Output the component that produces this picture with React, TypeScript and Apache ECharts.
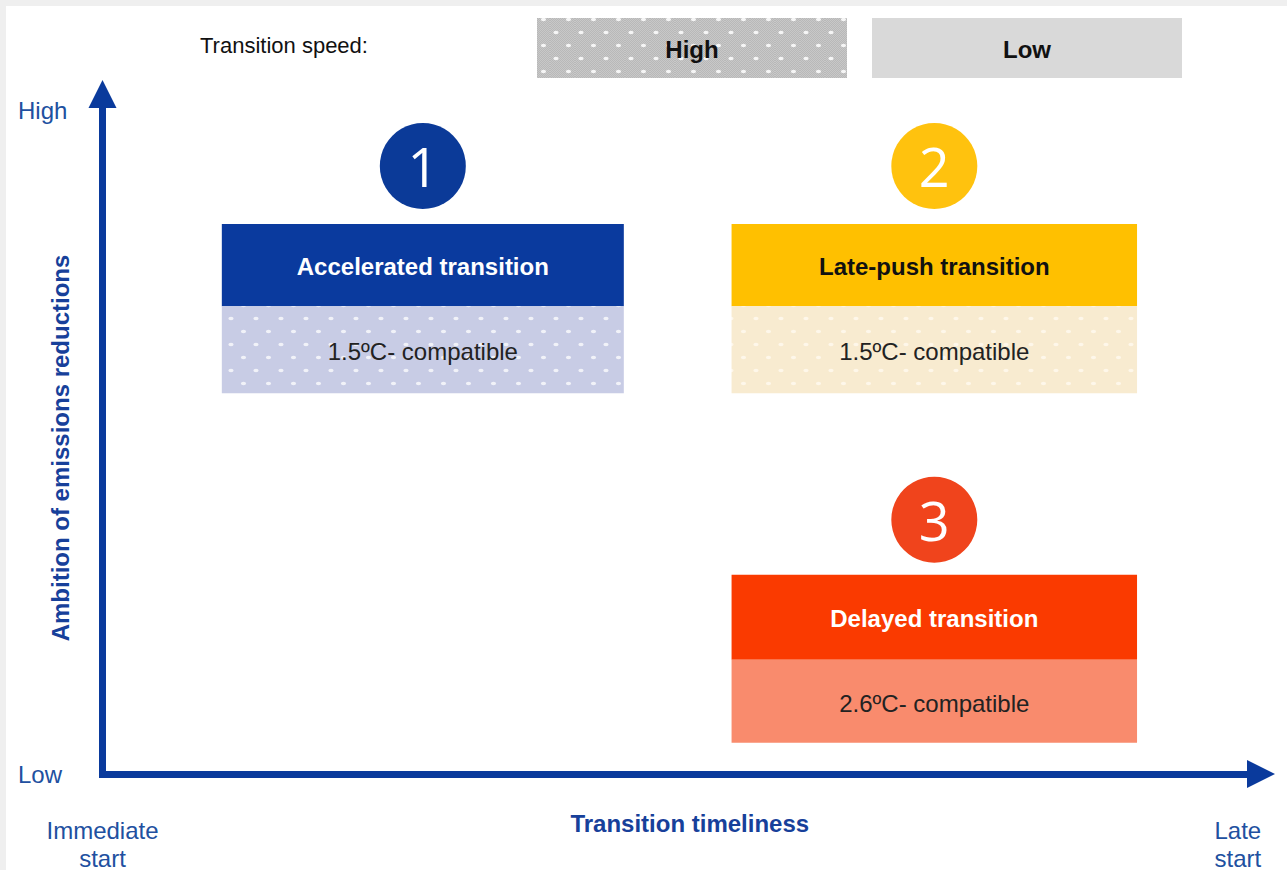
import React, { useEffect, useRef } from "react";
import * as echarts from "echarts";

// ---- data ----
const scenarioNames = ["Accelerated transition", "Late-push transition", "Delayed transition"];
const scenarioNumbers = ["1", "2", "3"];
const compatibilityLabels = ["1.5ºC- compatible", "1.5ºC- compatible", "2.6ºC- compatible"];
const scenarioSpeed = ["High", "High", "Low"];
// transition timeliness extent (0 = immediate start, 100 = late start)
const timelinessFrom = [10.3, 54.3, 54.3];
const timelinessTo = [45.0, 89.3, 89.3];
// ambition of emissions reductions (0 = low, 100 = high)
const ambitionHeaderTop = [80.9, 80.9, 29.3];
const ambitionHeaderBottom = [68.8, 68.8, 16.8];
const ambitionBoxBottom = [56.0, 56.0, 4.6];
const badgeAmbition = [89.4, 89.4, 37.4];
const speedLegend = ["High", "Low"];
const xTickValues = [0, 98];
const xTickLabels = ["Immediate\nstart", "Late\nstart"];
const yTickValues = [0, 97.6];
const yTickLabels = ["Low", "High"];

// ---- styles ----
const FONT = "'Liberation Sans', Arial, sans-serif";
const AXIS_BLUE = "#0a3a9c";
const LABEL_BLUE = "#2150a0";
const headerColors = ["#0a3a9e", "#ffc000", "#fa3a00"];
const headerTextColors = ["#ffffff", "#111111", "#ffffff"];
const badgeColors = ["#0b3a98", "#ffc20e", "#f0441c"];
const subTints = ["#c8cce5", "#f8ebd0", "#f98b6d"];
const subDots = ["#ffffff", "#fffaf0", "#ffffff"];
const subDotOpacity = [0.75, 0.8, 0.6];

function dotTile(base: string, dot: string, op: number, checker?: string) {
  const w = 25;
  const h = 26;
  let s = `<svg xmlns='http://www.w3.org/2000/svg' width='${w}' height='${h}'>`;
  s += `<rect width='${w}' height='${h}' fill='${base}'/>`;
  if (checker) {
    s += `<defs><pattern id='c' width='2' height='2' patternUnits='userSpaceOnUse'><rect width='1' height='1' fill='${checker}'/><rect x='1' y='1' width='1' height='1' fill='${checker}'/></pattern></defs>`;
    s += `<rect width='${w}' height='${h}' fill='url(#c)'/>`;
  }
  s += `<g fill='${dot}' fill-opacity='${op}'>`;
  s += `<ellipse cx='6' cy='6.5' rx='2.6' ry='1.7'/>`;
  s += `<ellipse cx='18.5' cy='19.5' rx='2.6' ry='1.7'/>`;
  s += `</g></svg>`;
  return {
    image: "data:image/svg+xml;charset=utf-8," + encodeURIComponent(s),
    repeat: "repeat",
    imageWidth: w,
    imageHeight: h,
  } as any;
}

export default function App() {
  const ref = useRef<HTMLDivElement>(null);

  useEffect(() => {
    if (!ref.current) return;
    const chart = echarts.init(ref.current, undefined, { renderer: "svg" });

    const boxData = scenarioNames.map((_, i) => [
      timelinessFrom[i],
      timelinessTo[i],
      ambitionHeaderTop[i],
      ambitionHeaderBottom[i],
      ambitionBoxBottom[i],
    ]);

    const subFills = scenarioNames.map((_, i) =>
      scenarioSpeed[i] === "High" ? dotTile(subTints[i], subDots[i], subDotOpacity[i]) : subTints[i]
    );

    const badgeData = scenarioNumbers.map((n, i) => ({
      value: [(timelinessFrom[i] + timelinessTo[i]) / 2, badgeAmbition[i]],
      itemStyle: { color: badgeColors[i], opacity: 1 },
    }));

    const legendFills = [dotTile("#c8c8c8", "#ffffff", 0.85, "#b8b8b8"), "#d9d9d9"];
    const legendX = [537, 872];

    const option: any = {
      animation: false,
      backgroundColor: "#ffffff",
      grid: {
        left: 102.5,
        right: 26,
        top: 94,
        bottom: 96,
        containLabel: false,
        outerBoundsMode: "none",
      },
      xAxis: {
        type: "value",
        min: 0,
        max: 100,
        name: "Transition timeliness",
        nameLocation: "middle",
        nameGap: 37,
        nameMoveOverlap: false,
        nameTextStyle: {
          fontFamily: FONT,
          fontSize: 24,
          fontWeight: "bold",
          color: "#17409a",
          padding: [0, 0, 0, 16],
        },
        axisLine: {
          show: true,
          onZero: false,
          symbol: ["none", "triangle"],
          symbolSize: [28, 28],
          lineStyle: { color: AXIS_BLUE, width: 7, cap: "square" },
        },
        axisTick: { show: false },
        splitLine: { show: false },
        axisLabel: {
          customValues: xTickValues,
          formatter: (v: number) => xTickLabels[xTickValues.indexOf(v)] ?? "",
          margin: 42,
          fontFamily: FONT,
          fontSize: 24,
          lineHeight: 28,
          color: LABEL_BLUE,
        },
      },
      yAxis: {
        type: "value",
        min: 0,
        max: 100,
        name: "Ambition of emissions reductions",
        nameLocation: "middle",
        nameGap: 30,
        nameRotate: 90,
        nameMoveOverlap: false,
        nameTextStyle: {
          fontFamily: FONT,
          fontSize: 24,
          fontWeight: "bold",
          color: "#17409a",
          padding: [0, 28, 0, 0],
        },
        axisLine: {
          show: true,
          onZero: false,
          symbol: ["none", "triangle"],
          symbolSize: [28, 28],
          lineStyle: { color: AXIS_BLUE, width: 7, cap: "square" },
        },
        axisTick: { show: false },
        splitLine: { show: false },
        axisLabel: {
          customValues: yTickValues,
          formatter: (v: number) => yTickLabels[yTickValues.indexOf(v)] ?? "",
          margin: 84.5,
          align: "left",
          fontFamily: FONT,
          fontSize: 24,
          color: LABEL_BLUE,
        },
      },
      graphic: [
        { type: "rect", silent: true, shape: { x: 0, y: 0, width: 1287, height: 6 }, style: { fill: "#efefef" } },
        { type: "rect", silent: true, shape: { x: 0, y: 0, width: 6, height: 870 }, style: { fill: "#efefef" } },
        {
          type: "text",
          x: 200,
          y: 45,
          style: {
            text: "Transition speed:",
            fontFamily: FONT,
            fontSize: 22,
            fill: "#111111",
            verticalAlign: "middle",
          },
        },
        ...speedLegend.flatMap((s, i) => [
          {
            type: "rect",
            shape: { x: legendX[i], y: 18, width: 310, height: 60 },
            style: { fill: legendFills[i] },
          },
          {
            type: "text",
            x: legendX[i] + 155,
            y: 49,
            style: {
              text: s,
              fontFamily: FONT,
              fontSize: 24,
              fontWeight: "bold",
              fill: "#111111",
              align: "center",
              verticalAlign: "middle",
            },
          },
        ]),
      ],
      series: [
        {
          type: "custom",
          clip: false,
          data: boxData,
          encode: { x: [0, 1], y: [2, 3, 4] },
          renderItem: (params: any, api: any) => {
            const i = params.dataIndex;
            const p0 = api.coord([api.value(0), api.value(2)]);
            const p1 = api.coord([api.value(1), api.value(3)]);
            const p2 = api.coord([api.value(1), api.value(4)]);
            const cx = (p0[0] + p1[0]) / 2;
            return {
              type: "group",
              children: [
                {
                  type: "rect",
                  shape: { x: p0[0], y: p0[1], width: p1[0] - p0[0], height: p1[1] - p0[1] },
                  style: { fill: headerColors[i] },
                },
                {
                  type: "rect",
                  shape: { x: p0[0], y: p1[1], width: p1[0] - p0[0], height: p2[1] - p1[1] },
                  style: { fill: subFills[i] },
                },
                {
                  type: "text",
                  x: cx,
                  y: (p0[1] + p1[1]) / 2 + 1,
                  style: {
                    text: scenarioNames[i],
                    fontFamily: FONT,
                    fontSize: 24,
                    fontWeight: "bold",
                    fill: headerTextColors[i],
                    align: "center",
                    verticalAlign: "middle",
                  },
                },
                {
                  type: "text",
                  x: cx,
                  y: (p1[1] + p2[1]) / 2 + 2,
                  style: {
                    text: compatibilityLabels[i],
                    fontFamily: FONT,
                    fontSize: 24,
                    fill: "#222222",
                    align: "center",
                    verticalAlign: "middle",
                  },
                },
              ],
            };
          },
        },
        {
          type: "scatter",
          symbol: "circle",
          symbolSize: 86,
          data: badgeData,
          itemStyle: { opacity: 1 },
          label: {
            show: true,
            position: "inside",
            formatter: (p: any) => scenarioNumbers[p.dataIndex],
            fontFamily: "'Open Sans', sans-serif",
            fontSize: 54,
            color: "#ffffff",
          },
        },
      ],
    };

    chart.setOption(option);
    return () => chart.dispose();
  }, []);

  return (
    <div
      ref={ref}
      style={{ position: "fixed", left: 0, top: 0, width: 1287, height: 870, background: "#ffffff" }}
    />
  );
}
